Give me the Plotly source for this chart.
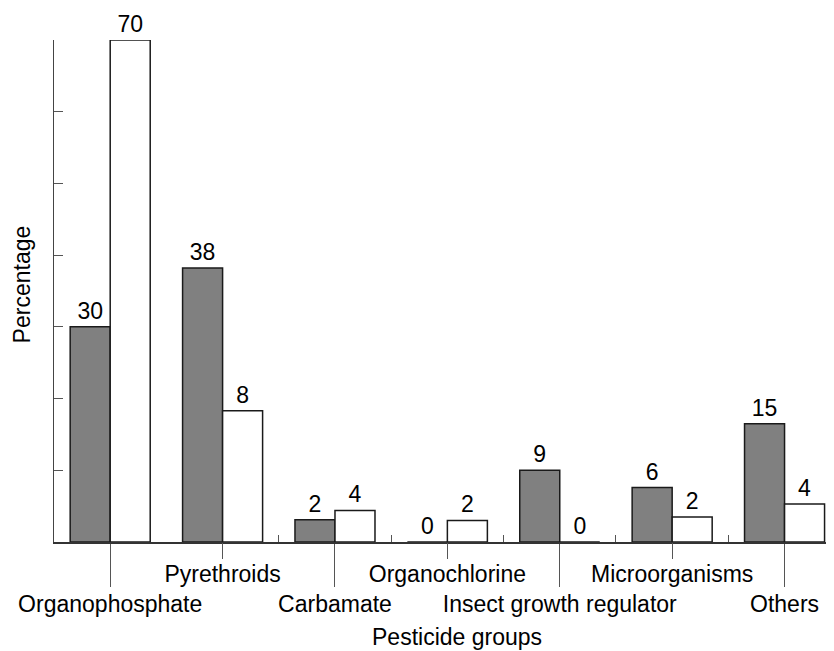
import plotly.graph_objects as go

categories = ["Organophosphate", "Pyrethroids", "Carbamate", "Organochlorine",
              "Insect growth regulator", "Microorganisms", "Others"]
# bar heights as drawn (percentage axis 0-70)
gray_values = [30, 38.2, 3.1, 0, 10.0, 7.6, 16.5]
white_values = [70, 18.3, 4.4, 3.0, 0, 3.5, 5.3]
# value labels printed above bars
gray_labels = ["30", "38", "2", "0", "9", "6", "15"]
white_labels = ["70", "8", "4", "2", "0", "2", "4"]
y_ticks = [0, 10, 20, 30, 40, 50, 60, 70]

FONT = "Liberation Sans, Arial, Helvetica, sans-serif"
idx = list(range(len(categories)))

fig = go.Figure()
fig.add_trace(go.Bar(x=idx, y=gray_values, text=gray_labels, textposition="outside",
                     marker=dict(color="#808080", line=dict(color="#1a1a1a", width=1.5)),
                     textfont=dict(size=23, color="black", family=FONT),
                     cliponaxis=False, showlegend=False))
fig.add_trace(go.Bar(x=idx, y=white_values, text=white_labels, textposition="outside",
                     marker=dict(color="white", line=dict(color="#1a1a1a", width=1.5)),
                     textfont=dict(size=23, color="black", family=FONT),
                     cliponaxis=False, showlegend=False))

xr = [-0.5, 6.44]
even = idx[0::2]
odd = idx[1::2]
fig.update_layout(
    width=826, height=643, autosize=False,
    margin=dict(l=46, r=0, t=32, b=109),
    paper_bgcolor="white", plot_bgcolor="white",
    font=dict(family=FONT, size=23, color="black"),
    barmode="group", bargap=0.288, bargroupgap=0,
    xaxis=dict(range=xr, showgrid=False, zeroline=False, showline=True,
               linecolor="#333", linewidth=1.5,
               tickmode="array", tickvals=even, ticktext=[categories[i] for i in even],
               ticks="outside", ticklen=43, tickcolor="#555", tickwidth=1,
               ticklabelstandoff=-2, tickfont=dict(size=23, color="black")),
    xaxis2=dict(range=xr, overlaying="x", anchor="y", side="bottom", showgrid=False,
                zeroline=False, showline=False,
                tickmode="array", tickvals=odd, ticktext=[categories[i] for i in odd],
                ticks="outside", ticklen=16, tickcolor="#555", tickwidth=1,
                ticklabelstandoff=-5, tickfont=dict(size=23, color="black")),
    xaxis3=dict(range=xr, overlaying="x", anchor="y", side="bottom", showgrid=False,
                zeroline=False, showline=False,
                tickmode="array", tickvals=[i + 0.5 for i in idx[1:-1]],
                ticks="inside", ticklen=7, tickcolor="#555", tickwidth=1,
                showticklabels=False),
    yaxis=dict(range=[0, 70], showgrid=False, zeroline=False, showline=True,
               linecolor="#444", linewidth=1.2,
               tickmode="array", tickvals=y_ticks, showticklabels=False,
               ticks="inside", ticklen=9, tickcolor="#555", tickwidth=1),
    annotations=[
        dict(text="Percentage", xref="paper", yref="paper", x=-0.0405, y=0.514,
             textangle=-90, showarrow=False, xanchor="center", yanchor="middle",
             borderpad=0, font=dict(size=23, color="black", family=FONT)),
        dict(text="Pesticide groups", xref="paper", yref="paper", x=0.5167, y=-0.189,
             showarrow=False, xanchor="center", yanchor="middle",
             font=dict(size=23, color="black", family=FONT)),
    ],
)
# empty helper traces so overlay axes are drawn
fig.add_trace(go.Scatter(x=[], y=[], xaxis="x2", showlegend=False, hoverinfo="skip"))
fig.add_trace(go.Scatter(x=[], y=[], xaxis="x3", showlegend=False, hoverinfo="skip"))

fig.write_html("out.html")
